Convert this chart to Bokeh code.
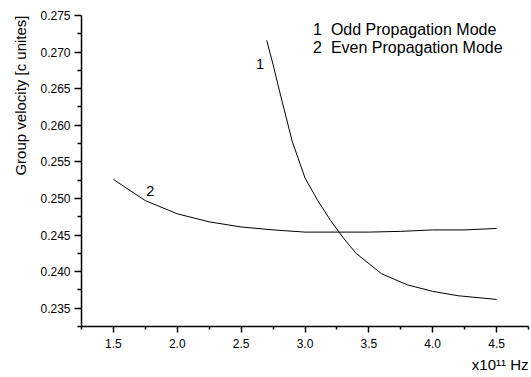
from bokeh.plotting import figure
from bokeh.models import Range1d, FixedTicker, Label, PrintfTickFormatter, Title
from bokeh.embed import file_html
from bokeh.resources import INLINE

# Data
even_x = [1.5, 1.75, 2.0, 2.25, 2.5, 2.75, 3.0, 3.25, 3.5, 3.75, 4.0, 4.25, 4.5]
even_y = [0.2526, 0.2497, 0.2479, 0.2468, 0.2461, 0.2457, 0.2454, 0.2454,
          0.2454, 0.2455, 0.2457, 0.2457, 0.2459]
odd_x = [2.70, 2.75, 2.80, 2.90, 3.00, 3.10, 3.20, 3.30, 3.40, 3.60, 3.80,
         4.00, 4.20, 4.50]
odd_y = [0.2716, 0.2683, 0.2647, 0.2578, 0.2528, 0.2497, 0.2470, 0.2446,
         0.2425, 0.2397, 0.2382, 0.2373, 0.2367, 0.2362]

x_ticks = [1.5, 2.0, 2.5, 3.0, 3.5, 4.0, 4.5]
x_minor = [1.25, 1.75, 2.25, 2.75, 3.25, 3.75, 4.25, 4.75]
y_ticks = [0.235, 0.240, 0.245, 0.250, 0.255, 0.260, 0.265, 0.270, 0.275]
y_minor = [0.2325, 0.2375, 0.2425, 0.2475, 0.2525, 0.2575, 0.2625, 0.2675, 0.2725]

legend_nums = ["1", "2"]
legend_texts = ["Odd Propagation Mode", "Even Propagation Mode"]
y_title = "Group velocity [c unites]"
x_unit = "x10\u00b9\u00b9 Hz"

FONT = "Liberation Sans"

p = figure(width=531, height=377, output_backend="svg", toolbar_location=None,
           x_range=Range1d(1.25, 4.75), y_range=Range1d(0.2325, 0.275),
           min_border_left=81, min_border_right=3, min_border_top=15,
           min_border_bottom=51)
p.outline_line_color = None
p.xgrid.visible = False
p.ygrid.visible = False
p.background_fill_color = "white"
p.border_fill_color = "white"

p.line(even_x, even_y, line_color="black", line_width=1)
p.line(odd_x, odd_y, line_color="black", line_width=1)

for ax in (p.xaxis[0], p.yaxis[0]):
    ax.axis_line_width = 1.5
    ax.major_tick_line_width = 1.5
    ax.minor_tick_line_width = 1.5
    ax.major_tick_in = 0
    ax.minor_tick_in = 0
    ax.major_label_text_font = FONT
    ax.major_label_text_font_size = "12px"
    ax.major_label_text_color = "black"
    ax.axis_line_color = "black"
    ax.major_tick_line_color = "black"
    ax.minor_tick_line_color = "black"

p.xaxis[0].ticker = FixedTicker(ticks=x_ticks, minor_ticks=x_minor)
p.yaxis[0].ticker = FixedTicker(ticks=y_ticks, minor_ticks=y_minor)
p.xaxis[0].formatter = PrintfTickFormatter(format="%.1f")
p.yaxis[0].formatter = PrintfTickFormatter(format="%.3f")
p.xaxis[0].major_tick_out = 6
p.xaxis[0].minor_tick_out = 3
p.xaxis[0].major_label_standoff = 6
p.yaxis[0].major_tick_out = 7
p.yaxis[0].minor_tick_out = 4
p.yaxis[0].major_label_standoff = 4

# y axis title as a side title aligned to the top end
p.add_layout(Title(text=y_title, align="right", text_font=FONT,
                   text_font_size="15px", text_font_style="normal",
                   text_color="black", standoff=18, offset=0), "left")

# x unit label under the axis, right aligned
p.add_layout(Title(text=x_unit, align="right", text_font=FONT,
                   text_font_size="15px", text_font_style="normal",
                   text_color="black", standoff=7, offset=0), "below")


def lab(x, y, text, size, align="left"):
    p.add_layout(Label(x=x, y=y, text=text, text_font=FONT,
                       text_font_size=size, text_color="black",
                       text_align=align, text_baseline="middle"))


# legend text (top right)
lab(3.0625, 0.27309, legend_nums[0], "16px")
lab(3.203, 0.27309, legend_texts[0], "16px")
lab(3.0625, 0.27063, legend_nums[1], "16px")
lab(3.203, 0.27063, legend_texts[1], "16px")

# curve labels
lab(2.648, 0.26844, "1", "14.5px", align="center")
lab(1.789, 0.25095, "2", "14.5px", align="center")

open("out.html", "w").write(file_html(p, INLINE))
